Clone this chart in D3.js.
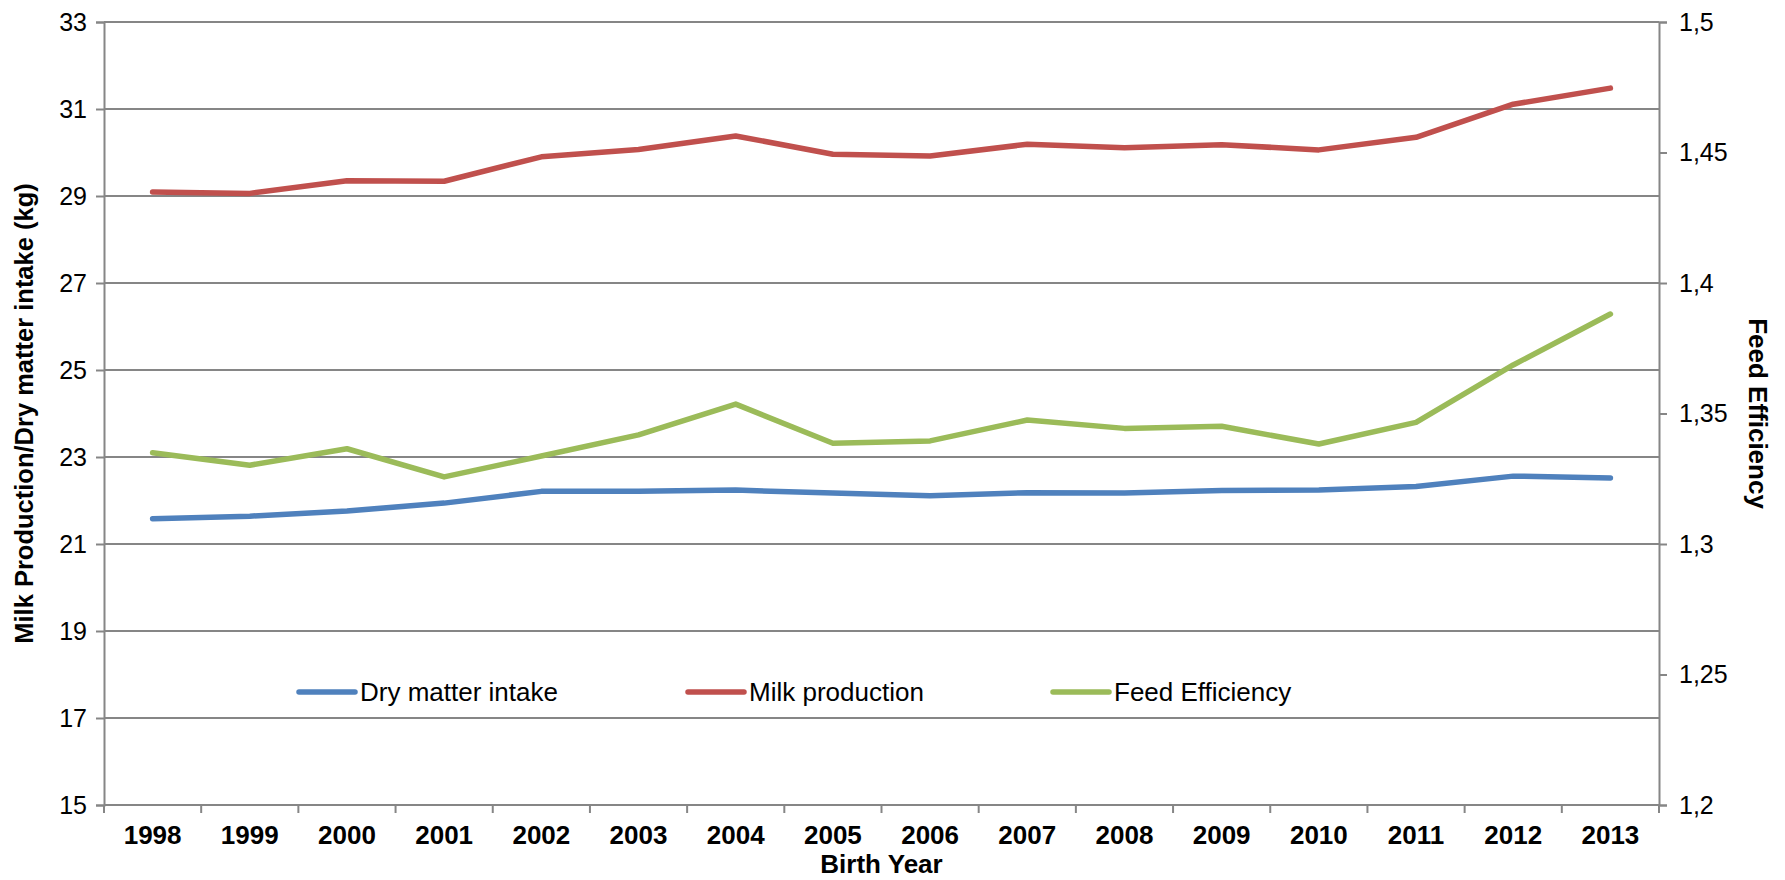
<!DOCTYPE html>
<html>
<head>
<meta charset="utf-8">
<script src="https://cdn.jsdelivr.net/npm/d3@7"></script>
<style>
  html, body { margin: 0; padding: 0; background: #fff; }
  svg { display: block; font-family: "Liberation Sans", Arial, Helvetica, sans-serif; }
</style>
</head>
<body>
<svg id="chart" width="1785" height="880"></svg>
<script>
// Birth years on the category axis
const years = ["1998","1999","2000","2001","2002","2003","2004","2005","2006","2007","2008","2009","2010","2011","2012","2013"];

// Dry matter intake (kg/day), left axis
const dryMatterIntake = [21.58, 21.64, 21.76, 21.94, 22.21, 22.21, 22.24, 22.17, 22.11, 22.18, 22.17, 22.23, 22.24, 22.32, 22.56, 22.52];

// Milk production (kg/day), left axis
const milkProduction = [29.09, 29.06, 29.35, 29.34, 29.90, 30.07, 30.38, 29.96, 29.92, 30.19, 30.11, 30.18, 30.06, 30.35, 31.11, 31.48];

// Feed efficiency (milk / DMI), right axis
const feedEfficiency = [1.335, 1.3302, 1.3365, 1.3257, 1.3337, 1.3418, 1.3536, 1.3386, 1.3395, 1.3475, 1.3443, 1.3451, 1.3383, 1.3466, 1.3686, 1.3881];

// Axis ticks
const leftTicks = [15, 17, 19, 21, 23, 25, 27, 29, 31, 33];
const rightTicks = [1.2, 1.25, 1.3, 1.35, 1.4, 1.45, 1.5];

const seriesNames = ["Dry matter intake", "Milk production", "Feed Efficiency"];
const seriesColors = ["#4F81BD", "#C0504D", "#9BBB59"];

const svg = d3.select("#chart");
const margin = { left: 104, right: 126, top: 22, bottom: 75 };
const W = 1785, H = 880;
const plotW = W - margin.left - margin.right;
const plotH = H - margin.top - margin.bottom;
const axisColor = "#868686";
const fontFamily = "Liberation Sans, Arial, sans-serif";

const x = d3.scaleBand().domain(years).range([0, plotW]).paddingInner(0).paddingOuter(0);
const yL = d3.scaleLinear().domain([15, 33]).range([plotH, 0]);
const yR = d3.scaleLinear().domain([1.2, 1.5]).range([plotH, 0]);

const g = svg.append("g").attr("transform", `translate(${margin.left},${margin.top})`);

// Horizontal gridlines from the left axis ticks
g.append("g")
  .selectAll("line")
  .data(leftTicks)
  .join("line")
  .attr("x1", 0).attr("x2", plotW)
  .attr("y1", d => yL(d)).attr("y2", d => yL(d))
  .attr("stroke", axisColor).attr("stroke-width", 2);

// Left axis
const leftAxis = g.append("g")
  .call(d3.axisLeft(yL).tickValues(leftTicks).tickSize(8).tickPadding(9).tickFormat(d3.format("d")));
leftAxis.select(".domain").attr("stroke", axisColor).attr("stroke-width", 2);
leftAxis.selectAll(".tick line").attr("stroke", axisColor).attr("stroke-width", 2);
leftAxis.selectAll("text").attr("font-size", 25).attr("fill", "#000").attr("font-family", fontFamily);

// Right axis
const fmtComma = d => d3.format("~g")(d).replace(".", ",");
const rightAxis = g.append("g")
  .attr("transform", `translate(${plotW},0)`)
  .call(d3.axisRight(yR).tickValues(rightTicks).tickSize(8).tickPadding(12).tickFormat(fmtComma));
rightAxis.select(".domain").attr("stroke", axisColor).attr("stroke-width", 2);
rightAxis.selectAll(".tick line").attr("stroke", axisColor).attr("stroke-width", 2);
rightAxis.selectAll("text").attr("font-size", 25).attr("fill", "#000").attr("font-family", fontFamily);

// Bottom axis: tick marks on category boundaries, labels at category centres
const xAxisG = g.append("g").attr("transform", `translate(0,${plotH})`);
xAxisG.append("line")
  .attr("x1", 0).attr("x2", plotW).attr("y1", 0).attr("y2", 0)
  .attr("stroke", axisColor).attr("stroke-width", 2);
const boundaries = years.map(d => x(d)).concat([plotW]);
xAxisG.selectAll("line.tk")
  .data(boundaries)
  .join("line")
  .attr("class", "tk")
  .attr("x1", d => d).attr("x2", d => d)
  .attr("y1", 0).attr("y2", 8)
  .attr("stroke", axisColor).attr("stroke-width", 2);
xAxisG.selectAll("text.yr")
  .data(years)
  .join("text")
  .attr("class", "yr")
  .attr("x", d => x(d) + x.bandwidth() / 2)
  .attr("y", 39)
  .attr("text-anchor", "middle")
  .attr("font-size", 26)
  .attr("font-weight", "bold")
  .text(d => d);

// Series lines
const seriesData = [
  { values: dryMatterIntake, scale: yL },
  { values: milkProduction, scale: yL },
  { values: feedEfficiency, scale: yR }
];
seriesData.forEach((s, i) => {
  const line = d3.line()
    .x((d, j) => x(years[j]) + x.bandwidth() / 2)
    .y(d => s.scale(d));
  g.append("path")
    .datum(s.values)
    .attr("d", line)
    .attr("fill", "none")
    .attr("stroke", seriesColors[i])
    .attr("stroke-width", 5.5)
    .attr("stroke-linecap", "round")
    .attr("stroke-linejoin", "round");
});

// Legend inside the plot area
const legendX = [299, 688, 1053];
const legend = svg.append("g");
seriesNames.forEach((name, i) => {
  const item = legend.append("g").attr("transform", `translate(${legendX[i]},692)`);
  item.append("line")
    .attr("x1", 0).attr("x2", 56).attr("y1", 0).attr("y2", 0)
    .attr("stroke", seriesColors[i]).attr("stroke-width", 5.5).attr("stroke-linecap", "round");
  item.append("text")
    .attr("x", 61).attr("y", 9)
    .attr("font-size", 26)
    .text(name);
});

// Axis titles
svg.append("text")
  .attr("transform", `translate(${margin.left + plotW / 2},873)`)
  .attr("text-anchor", "middle")
  .attr("font-size", 26).attr("font-weight", "bold")
  .text("Birth Year");

svg.append("text")
  .attr("transform", `translate(33,${margin.top + plotH / 2}) rotate(-90)`)
  .attr("text-anchor", "middle")
  .attr("font-size", 25.5).attr("font-weight", "bold")
  .text("Milk Production/Dry matter intake (kg)");

svg.append("text")
  .attr("transform", `translate(1749,${margin.top + plotH / 2}) rotate(90)`)
  .attr("text-anchor", "middle")
  .attr("font-size", 26).attr("font-weight", "bold")
  .text("Feed Efficiency");
</script>
</body>
</html>
